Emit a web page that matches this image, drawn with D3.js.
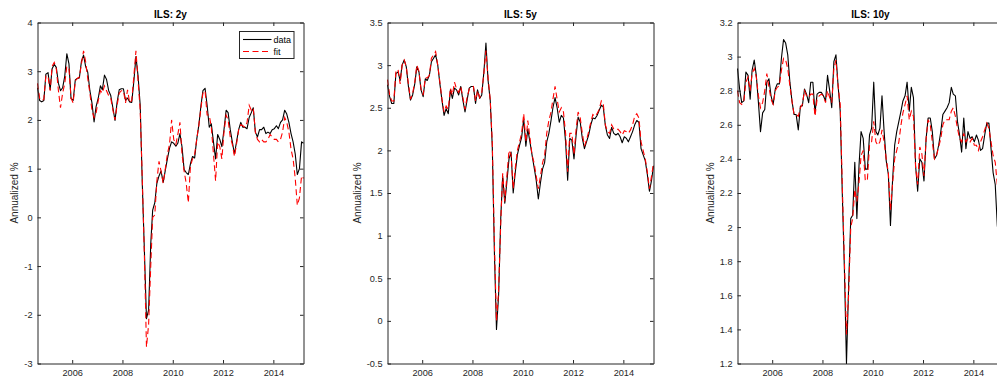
<!DOCTYPE html>
<html>
<head>
<meta charset="utf-8">
<script src="https://cdn.jsdelivr.net/npm/d3@7"></script>
<style>
html, body { margin: 0; padding: 0; background: #fff; overflow: hidden; }
svg { display: block; }
text { font-family: "Liberation Sans", Arial, Helvetica, sans-serif; }
</style>
</head>
<body>
<svg id="fig" width="997" height="379"></svg>
<script>
// Monthly inflation-linked swap rates (annualized %), Aug 2004 - Mar 2015
const firstYear = 2004, firstMonthIndex = 7; // August

const data2y = [2.66,2.40,2.37,2.40,2.94,2.97,2.62,3.05,3.14,3.08,2.75,2.60,2.66,2.90,3.36,3.15,2.44,2.40,2.82,2.85,
  2.86,3.20,3.33,3.10,2.98,2.60,2.35,1.96,2.28,2.45,2.70,2.62,2.92,2.83,2.60,2.50,2.25,1.99,2.36,2.62,
  2.64,2.64,2.40,2.45,2.37,2.36,2.80,3.30,2.90,2.30,0.70,-0.70,-2.08,-1.90,-0.55,0.15,0.30,0.70,0.85,0.95,
  0.72,0.97,1.20,1.42,1.55,1.52,1.46,1.52,1.72,1.45,0.98,0.92,0.88,1.10,1.25,1.22,1.60,1.90,2.30,2.60,
  2.65,2.30,1.85,1.92,1.55,1.20,1.70,1.60,1.45,1.80,2.20,2.15,1.80,1.55,1.30,1.55,1.80,1.95,1.85,1.85,
  1.82,2.05,2.15,2.25,1.75,1.65,1.80,1.80,1.85,1.72,1.75,1.72,1.80,1.82,1.88,1.82,1.95,2.00,2.20,2.12,
  1.95,1.72,1.55,1.30,0.88,1.00,1.55,1.52];
const fit2y = [2.75,2.45,2.40,2.42,2.90,2.90,2.60,3.10,3.18,3.05,2.60,2.25,2.55,2.75,3.10,3.05,2.45,2.35,2.80,2.85,
  2.88,3.15,3.42,3.20,2.85,2.55,2.20,2.05,2.15,2.40,2.60,2.55,2.70,2.60,2.50,2.45,2.20,2.00,2.30,2.55,
  2.60,2.60,2.35,2.62,2.35,2.40,2.90,3.42,2.80,2.20,0.80,-0.80,-2.66,-2.20,-1.00,0.00,0.05,0.75,1.15,0.95,
  0.70,1.00,1.30,1.50,2.00,1.60,1.50,1.70,1.95,1.30,0.95,0.70,0.30,1.05,1.20,1.30,1.60,1.90,2.25,2.55,
  2.60,2.10,2.10,1.85,1.30,0.75,1.55,1.45,1.20,1.75,2.10,2.00,1.65,1.50,1.25,1.50,1.80,1.90,1.88,1.85,
  1.95,2.30,2.20,2.25,1.75,1.60,1.55,1.60,1.55,1.55,1.60,1.70,1.65,1.60,1.60,1.55,1.60,1.75,2.05,1.95,
  1.75,1.40,1.20,0.80,0.25,0.40,0.85,0.80];

const data5y = [2.77,2.63,2.55,2.55,2.90,2.92,2.82,3.00,3.06,2.98,2.75,2.59,2.65,2.78,2.98,2.92,2.71,2.63,2.84,2.82,
  2.88,3.04,3.08,3.12,3.00,2.78,2.59,2.41,2.49,2.43,2.71,2.61,2.73,2.71,2.65,2.75,2.59,2.45,2.59,2.73,
  2.75,2.75,2.55,2.71,2.61,2.65,2.92,3.26,2.82,2.59,2.05,0.80,-0.10,0.30,1.20,1.70,1.38,1.63,1.90,1.98,
  1.50,1.75,1.95,2.06,2.15,2.37,2.05,2.25,2.10,1.95,1.80,1.65,1.43,1.62,1.78,1.86,2.10,2.20,2.35,2.50,
  2.62,2.50,2.33,2.41,2.38,2.10,1.65,2.14,2.12,1.90,2.18,2.39,2.33,2.14,2.02,2.10,2.18,2.30,2.38,2.37,
  2.41,2.47,2.53,2.51,2.29,2.18,2.14,2.27,2.20,2.18,2.20,2.16,2.09,2.16,2.14,2.10,2.16,2.22,2.30,2.35,
  2.33,2.02,1.95,1.88,1.72,1.52,1.65,1.82];
const fit5y = [2.83,2.65,2.58,2.58,2.93,2.95,2.78,3.00,3.06,2.98,2.78,2.60,2.67,2.80,3.00,2.93,2.72,2.65,2.85,2.85,
  2.88,3.08,3.12,3.16,3.00,2.80,2.60,2.45,2.52,2.48,2.73,2.65,2.80,2.72,2.68,2.75,2.62,2.48,2.62,2.72,
  2.74,2.75,2.58,2.70,2.62,2.68,2.90,3.17,2.85,2.60,2.10,0.90,0.00,0.35,1.15,1.73,1.40,1.70,2.00,1.95,
  1.55,1.80,2.00,2.10,2.20,2.43,2.10,2.35,2.15,1.95,1.85,1.70,1.55,1.70,1.85,1.95,2.20,2.35,2.45,2.60,
  2.75,2.60,2.45,2.50,2.45,2.20,1.75,2.20,2.20,1.95,2.25,2.45,2.38,2.20,2.05,2.12,2.22,2.33,2.42,2.40,
  2.43,2.48,2.58,2.55,2.30,2.22,2.20,2.30,2.25,2.24,2.25,2.22,2.18,2.23,2.22,2.20,2.24,2.30,2.40,2.43,
  2.38,2.10,2.00,1.90,1.75,1.55,1.70,1.85];

const data10y = [2.93,2.81,2.73,2.74,2.91,2.89,2.75,2.92,2.98,2.89,2.73,2.56,2.67,2.69,2.85,2.87,2.77,2.72,2.81,2.84,
  2.84,2.99,3.10,3.08,3.01,2.85,2.74,2.66,2.66,2.57,2.71,2.71,2.81,2.78,2.73,2.85,2.85,2.67,2.78,2.79,
  2.79,2.77,2.74,2.89,2.80,2.70,2.97,3.01,2.83,2.68,2.20,1.75,1.20,1.65,2.05,2.07,2.38,2.05,2.36,2.56,
  2.52,2.34,2.34,2.54,2.58,2.85,2.56,2.54,2.58,2.77,2.56,2.39,2.31,2.01,2.27,2.48,2.56,2.62,2.68,2.74,
  2.77,2.85,2.68,2.82,2.76,2.36,2.21,2.40,2.38,2.27,2.52,2.64,2.64,2.56,2.40,2.42,2.48,2.56,2.66,2.68,
  2.70,2.73,2.82,2.78,2.77,2.62,2.54,2.44,2.64,2.46,2.56,2.52,2.53,2.50,2.54,2.51,2.45,2.46,2.54,2.61,
  2.61,2.46,2.32,2.25,2.01,1.90,1.95,2.00];
const fit10y = [2.80,2.73,2.72,2.74,2.85,2.88,2.80,2.90,2.93,2.88,2.77,2.70,2.73,2.80,2.90,2.82,2.75,2.72,2.80,2.82,
  2.83,2.92,2.99,2.98,2.93,2.83,2.74,2.66,2.66,2.65,2.70,2.72,2.80,2.77,2.76,2.78,2.78,2.65,2.75,2.77,
  2.78,2.77,2.73,2.80,2.76,2.73,2.93,2.98,2.83,2.72,2.25,1.80,1.37,1.60,2.00,2.05,2.22,2.15,2.26,2.42,
  2.45,2.27,2.28,2.48,2.50,2.62,2.50,2.48,2.50,2.57,2.50,2.40,2.32,2.10,2.25,2.40,2.45,2.50,2.60,2.67,
  2.72,2.77,2.63,2.68,2.65,2.35,2.25,2.47,2.43,2.30,2.52,2.63,2.60,2.50,2.40,2.42,2.47,2.52,2.60,2.63,
  2.63,2.63,2.68,2.70,2.65,2.58,2.52,2.50,2.55,2.50,2.52,2.50,2.52,2.48,2.48,2.45,2.50,2.53,2.57,2.61,
  2.58,2.50,2.42,2.38,2.25,2.20,2.20,2.22];

const titles = ["ILS: 2y", "ILS: 5y", "ILS: 10y"];
const yTicks2y = [-3, -2, -1, 0, 1, 2, 3, 4];
const yTicks5y = [-0.5, 0, 0.5, 1, 1.5, 2, 2.5, 3, 3.5];
const yTicks10y = [1.2, 1.4, 1.6, 1.8, 2, 2.2, 2.4, 2.6, 2.8, 3, 3.2];
const xTickYears = [2006, 2008, 2010, 2012, 2014];
const legendLabels = ["data", "fit"];
const yLabel = "Annualized %";

const panels = [
  { title: titles[0], data: data2y, fit: fit2y, yTicks: yTicks2y },
  { title: titles[1], data: data5y, fit: fit5y, yTicks: yTicks5y },
  { title: titles[2], data: data10y, fit: fit10y, yTicks: yTicks10y }
];

// mid-month timestamps for each observation
const months = data2y.map((_, i) => new Date(Date.UTC(firstYear, firstMonthIndex + i, 15)));

const svg = d3.select("#fig");
const axisColor = "#262626";
const fitDash = "6,3.5";
const plotW = 266, plotH = 341, plotTop = 22.5, plotLeft0 = 37.5, plotStep = 350, tickLen = 3.5;

const x = d3.scaleUtc().domain([months[0], months[months.length - 1]]).range([0, plotW]);
const xTickDates = xTickYears.map(yr => new Date(Date.UTC(yr, 0, 1)));

function styleAxis(sel, fs) {
  sel.attr("font-family", null).attr("font-size", null);
  sel.selectAll("path.domain").attr("stroke", axisColor).attr("stroke-width", 1);
  sel.selectAll(".tick line").attr("stroke", axisColor).attr("stroke-width", 1);
  sel.selectAll(".tick text").attr("fill", axisColor).style("font-size", fs + "px");
}

panels.forEach((p, i) => {
  const left = plotLeft0 + plotStep * i;
  const g = svg.append("g").attr("transform", `translate(${left},${plotTop})`);
  const y = d3.scaleLinear()
    .domain([p.yTicks[0], p.yTicks[p.yTicks.length - 1]])
    .range([plotH, 0]);

  const line = d3.line().x((d, j) => x(months[j])).y(d => y(d));

  g.append("path").datum(p.data)
    .attr("d", line).attr("fill", "none")
    .attr("stroke", "#000").attr("stroke-width", 1.1)
    .attr("stroke-linejoin", "round");
  g.append("path").datum(p.fit)
    .attr("d", line).attr("fill", "none")
    .attr("stroke", "#ff0000").attr("stroke-width", 1.1)
    .attr("stroke-dasharray", fitDash);

  const bottomAx = g.append("g").attr("transform", `translate(0,${plotH})`)
    .call(d3.axisBottom(x).tickValues(xTickDates).tickFormat(d3.utcFormat("%Y"))
      .tickSizeInner(-tickLen).tickSizeOuter(0).tickPadding(5.5));
  styleAxis(bottomAx, 9.2);
  const topAx = g.append("g")
    .call(d3.axisTop(x).tickValues(xTickDates).tickFormat("")
      .tickSizeInner(-tickLen).tickSizeOuter(0));
  styleAxis(topAx, 9.2);
  const leftAx = g.append("g")
    .call(d3.axisLeft(y).tickValues(p.yTicks).tickFormat(d => String(d))
      .tickSizeInner(-tickLen).tickSizeOuter(0).tickPadding(5));
  styleAxis(leftAx, 9.2);
  const rightAx = g.append("g").attr("transform", `translate(${plotW},0)`)
    .call(d3.axisRight(y).tickValues(p.yTicks).tickFormat("")
      .tickSizeInner(-tickLen).tickSizeOuter(0));
  styleAxis(rightAx, 9.2);

  // title
  g.append("text")
    .attr("x", plotW / 2).attr("y", -4.5)
    .attr("text-anchor", "middle")
    .style("font-size", "10px").style("font-weight", "bold")
    .attr("fill", "#000")
    .text(p.title);

  // y label placed just left of the widest tick label
  let minX = 0;
  leftAx.selectAll(".tick text").each(function () {
    const b = this.getBBox();
    minX = Math.min(minX, b.x);
  });
  g.append("text")
    .attr("transform", `translate(${minX - 9.5},${plotH / 2}) rotate(-90)`)
    .attr("text-anchor", "middle")
    .attr("dy", "0.35em")
    .style("font-size", "10px")
    .attr("fill", axisColor)
    .text(yLabel);

  if (i === 0) {
    const lg = g.append("g").attr("transform", `translate(${plotW - 64},9)`);
    lg.append("rect").attr("x", 0).attr("y", 0).attr("width", 54.5).attr("height", 27)
      .attr("fill", "#fff").attr("stroke", axisColor).attr("stroke-width", 1);
    const styles = [{ c: "#000", dash: null }, { c: "#ff0000", dash: fitDash }];
    legendLabels.forEach((lab, k) => {
      const ly = 8 + k * 12;
      lg.append("line").attr("x1", 3.5).attr("x2", 32).attr("y1", ly).attr("y2", ly)
        .attr("stroke", styles[k].c).attr("stroke-width", 1.1)
        .attr("stroke-dasharray", styles[k].dash);
      lg.append("text").attr("x", 34).attr("y", ly + 3.2)
        .style("font-size", "9px").attr("fill", "#000").text(lab);
    });
  }
});
</script>
</body>
</html>
